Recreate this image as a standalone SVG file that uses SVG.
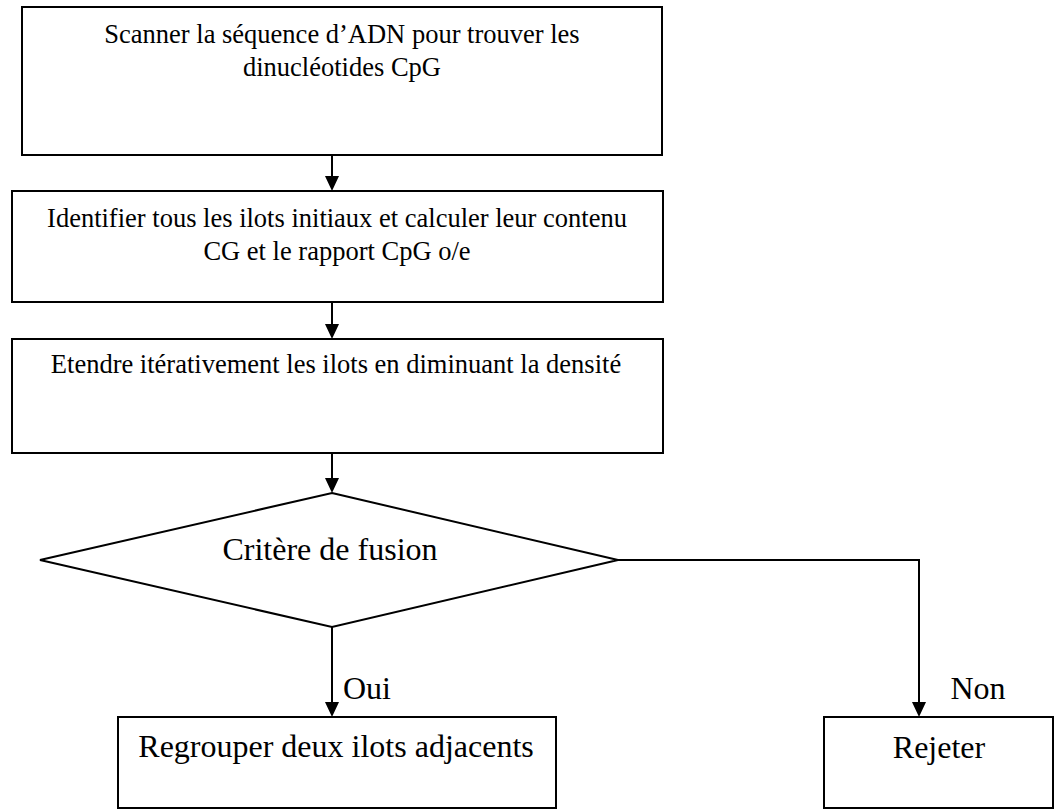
<svg xmlns="http://www.w3.org/2000/svg" width="1055" height="810" viewBox="0 0 1055 810">
<style>
.box{fill:#fff;stroke:#000;stroke-width:2}
.t{font-family:"Liberation Serif","Times New Roman",serif;fill:#000;text-anchor:middle}
.s{font-size:26.5px}
.b{font-size:32px}
.c{fill:none;stroke:#000;stroke-width:2}
</style>
<defs>
<marker id="ah" viewBox="0 0 15 14" refX="5" refY="7" markerWidth="15" markerHeight="14" markerUnits="userSpaceOnUse" orient="auto">
<path d="M0,0 L15,7 L0,14 z" fill="#000"/>
</marker>
</defs>
<rect width="1055" height="810" fill="#fff"/>
<g id="n1">
<rect class="box" x="22" y="7" width="640" height="148"/>
<text class="t s" x="342" y="43">Scanner la séquence d’ADN pour trouver les</text>
<text class="t s" x="342" y="76">dinucléotides CpG</text>
</g>
<g id="n2">
<rect class="box" x="12" y="191" width="651" height="111"/>
<text class="t s" x="337" y="227">Identifier tous les ilots initiaux et calculer leur contenu</text>
<text class="t s" x="337" y="260">CG et le rapport CpG o/e</text>
</g>
<g id="n3">
<rect class="box" x="12" y="339" width="651" height="114"/>
<text class="t s" x="336" y="373">Etendre itérativement les ilots en diminuant la densité</text>
</g>
<g id="n4">
<polygon class="box" points="332,493 618,560 332,627 40,560"/>
<text class="t b" x="330" y="560">Critère de fusion</text>
</g>
<g id="n5">
<rect class="box" x="118" y="717" width="438" height="91"/>
<text class="t b" x="336" y="757">Regrouper deux ilots adjacents</text>
</g>
<g id="n6">
<rect class="box" x="824" y="717" width="229" height="91"/>
<text class="t b" x="939" y="758">Rejeter</text>
</g>
<g id="connectors">
<path class="c" d="M332,155 V181" marker-end="url(#ah)"/>
<path class="c" d="M332,302 V329" marker-end="url(#ah)"/>
<path class="c" d="M332,453 V483" marker-end="url(#ah)"/>
<path class="c" d="M332,627 V707" marker-end="url(#ah)"/>
<path class="c" d="M618,560 H919 V707" marker-end="url(#ah)"/>
<text class="t b" x="367" y="699">Oui</text>
<text class="t b" x="978" y="699">Non</text>
</g>
</svg>
